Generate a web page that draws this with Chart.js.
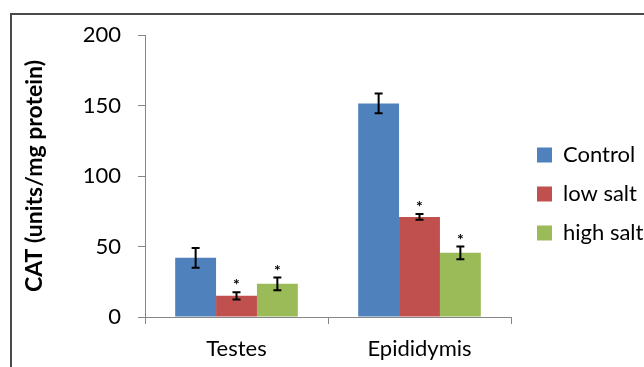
<!DOCTYPE html>
<html>
<head>
<meta charset="utf-8">
<script src="https://cdn.jsdelivr.net/npm/chart.js@4"></script>
<style>
  html, body { margin: 0; padding: 0; background: #fff; }
  #wrap { width: 644px; height: 367px; }
</style>
</head>
<body>
<div id="wrap"><canvas id="chart" width="644" height="367"></canvas></div>
<script>
const categories = ['Testes', 'Epididymis'];
const controlValues = [42, 151.5];
const controlErrors = [7, 7];
const lowSaltValues = [15, 71];
const lowSaltErrors = [2.5, 2];
const highSaltValues = [23.5, 45.5];
const highSaltErrors = [4.5, 4.5];
const lowSaltStars = [true, true];
const highSaltStars = [true, true];
const noStars = [false, false];
const yTicks = [0, 50, 100, 150, 200];

const police = 'Lato, "Open Sans", sans-serif';

// cadre gris autour du graphique
const cadre = {
    id: 'cadre',
    beforeDraw(chart) {
        const ctx = chart.ctx;
        ctx.save();
        ctx.strokeStyle = '#4a4a4a';
        ctx.lineWidth = 2;
        ctx.beginPath();
        ctx.moveTo(11, chart.height);
        ctx.lineTo(11, 14);
        ctx.lineTo(chart.width, 14);
        ctx.stroke();
        ctx.restore();
    }
};

// barres d'erreur + asterisques
const barresErreur = {
    id: 'barresErreur',
    afterDatasetsDraw(chart) {
        const ctx = chart.ctx;
        const y = chart.scales.y;
        ctx.save();
        chart.data.datasets.forEach((ds, i) => {
            const meta = chart.getDatasetMeta(i);
            meta.data.forEach((bar, j) => {
                const v = ds.data[j];
                const e = ds.errors[j];
                const haut = y.getPixelForValue(v + e);
                const bas = y.getPixelForValue(v - e);
                ctx.strokeStyle = '#000';
                ctx.lineWidth = 2;
                ctx.beginPath();
                ctx.moveTo(bar.x, haut);
                ctx.lineTo(bar.x, bas);
                ctx.moveTo(bar.x - 4, haut);
                ctx.lineTo(bar.x + 4, haut);
                ctx.moveTo(bar.x - 4, bas);
                ctx.lineTo(bar.x + 4, bas);
                ctx.stroke();
                if (ds.stars[j]) {
                    ctx.fillStyle = '#000';
                    ctx.font = 'bold 16px ' + police;
                    ctx.textAlign = 'center';
                    ctx.textBaseline = 'alphabetic';
                    ctx.fillText('*', bar.x, haut - 2);
                }
            });
        });
        ctx.restore();
    }
};

// legende : largeur fixe, carres places a x = 537
const legendeFixe = {
    id: 'legendeFixe',
    afterInit(chart) {
        const lg = chart.legend;
        const fit = lg.fit;
        lg.fit = function () {
            fit.call(this);
            this.width = 133;
        };
        const draw = lg.draw;
        lg.draw = function () {
            const ctx = this.ctx;
            ctx.save();
            ctx.translate(537 - 17 - this.left, -7);
            draw.call(this);
            ctx.restore();
        };
    }
};

const ctx = document.getElementById('chart').getContext('2d');
new Chart(ctx, {
    type: 'bar',
    data: {
        labels: categories,
        datasets: [
            { label: 'Control', data: controlValues, errors: controlErrors, stars: noStars, backgroundColor: '#4F81BD' },
            { label: 'low salt', data: lowSaltValues, errors: lowSaltErrors, stars: lowSaltStars, backgroundColor: '#C0504D' },
            { label: 'high salt', data: highSaltValues, errors: highSaltErrors, stars: highSaltStars, backgroundColor: '#9BBB59' }
        ]
    },
    options: {
        responsive: false,
        animation: false,
        devicePixelRatio: 1,
        layout: { padding: { top: 35, left: 14, right: 0, bottom: 0 } },
        datasets: { bar: { categoryPercentage: 0.67, barPercentage: 1.0 } },
        scales: {
            x: {
                grid: { display: true, drawOnChartArea: false, drawTicks: true, tickLength: 7, color: '#868686', offset: true },
                border: { color: '#868686', width: 1 },
                ticks: { color: '#000', font: { family: police, size: 22 }, padding: 12 },
                afterFit(axis) { axis.height = 50; }
            },
            y: {
                min: 0,
                max: 200,
                afterBuildTicks(axis) { axis.ticks = yTicks.map(v => ({ value: v })); },
                grid: { display: true, drawOnChartArea: false, drawTicks: true, tickLength: 7, color: '#868686' },
                border: { color: '#868686', width: 1 },
                ticks: { color: '#000', font: { family: police, size: 22 }, padding: 17 },
                title: {
                    display: true,
                    text: 'CAT (units/mg protein)',
                    color: '#000',
                    font: { family: police, size: 23, weight: 'bold', lineHeight: 1.2 },
                    padding: { top: 7, bottom: 0 }
                },
                afterFit(axis) { axis.width = 131; }
            }
        },
        plugins: {
            legend: {
                position: 'right',
                labels: {
                    color: '#000',
                    font: { family: police, size: 22 },
                    boxWidth: 15,
                    boxHeight: 15,
                    padding: 17
                }
            },
            tooltip: { enabled: false }
        }
    },
    plugins: [cadre, barresErreur, legendeFixe]
});
</script>
</body>
</html>
